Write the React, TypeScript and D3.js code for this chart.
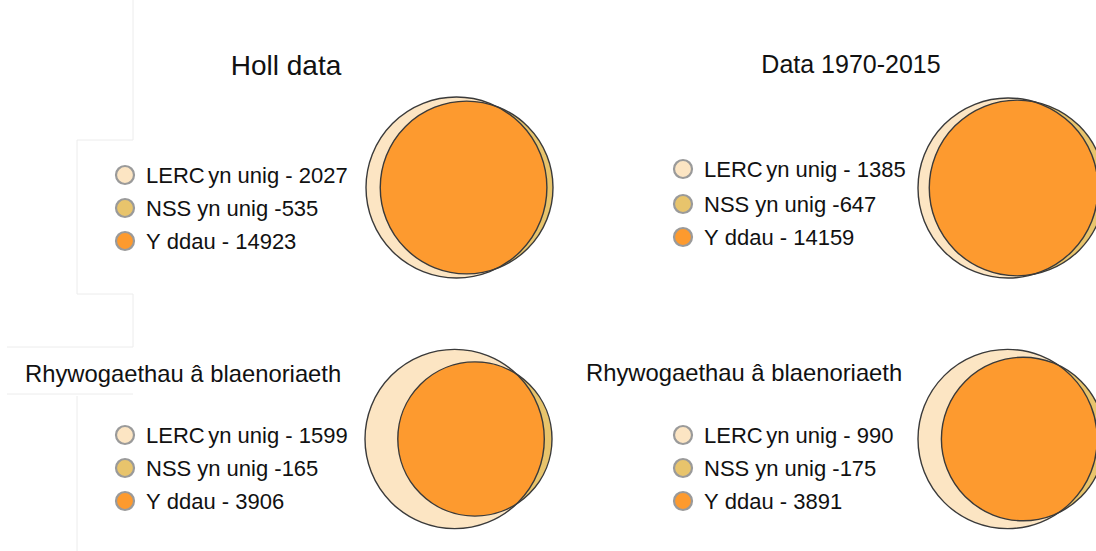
import React from "react";
import * as d3 from "d3";

// ---- data ----
const panelTitles = ["Holl data", "Data 1970-2015", "Rhywogaethau â blaenoriaeth", "Rhywogaethau â blaenoriaeth"];
const lercOnly = [2027, 1385, 1599, 990];
const nssOnly = [535, 647, 165, 175];
const both = [14923, 14159, 3906, 3891];
const legendHeads = ["LERC", "NSS", "Y"];
const legendTails = ["yn unig - ", "yn unig -", "ddau - "];

// ---- styles / layout ----
const colors = ["#FCE5C3", "#E8C46C", "#FD9A2F"];
const layout = [
  { titleX: 286, titleY: 75, titleSize: 28, titleAnchor: "middle", legX: 125, legY: [175, 208, 241], vennLeft: 366, cy: 187.5 },
  { titleX: 851, titleY: 73, titleSize: 25, titleAnchor: "middle", legX: 683, legY: [169, 204, 237], vennLeft: 918, cy: 188 },
  { titleX: 25, titleY: 382, titleSize: 23.8, titleAnchor: "start", legX: 125, legY: [435, 468, 501], vennLeft: 365, cy: 439 },
  { titleX: 586, titleY: 381, titleSize: 23.8, titleAnchor: "start", legX: 683, legY: [435, 468, 501], vennLeft: 918, cy: 439 },
];
const headGaps = [3.5, 6, 6];
const VENN_WIDTH = 187;
const FONT = "'Liberation Sans', Arial, sans-serif";

function overlapArea(r1: number, r2: number, d: number) {
  if (d >= r1 + r2) return 0;
  if (d <= Math.abs(r1 - r2)) return Math.PI * Math.min(r1, r2) ** 2;
  const a1 = r1 * r1 * Math.acos((d * d + r1 * r1 - r2 * r2) / (2 * d * r1));
  const a2 = r2 * r2 * Math.acos((d * d + r2 * r2 - r1 * r1) / (2 * d * r2));
  const k = 0.5 * Math.sqrt((-d + r1 + r2) * (d + r1 - r2) * (d - r1 + r2) * (d + r1 + r2));
  return a1 + a2 - k;
}

function solveVenn(aOnly: number, bOnly: number, ab: number) {
  const r1 = Math.sqrt((aOnly + ab) / Math.PI);
  const r2 = Math.sqrt((bOnly + ab) / Math.PI);
  let lo = Math.abs(r1 - r2), hi = r1 + r2;
  for (let i = 0; i < 80; i++) {
    const mid = (lo + hi) / 2;
    if (overlapArea(r1, r2, mid) > ab) lo = mid; else hi = mid;
  }
  return { r1, r2, d: (lo + hi) / 2 };
}

function Panel({ i }: { i: number }) {
  const L = layout[i];
  const v = solveVenn(lercOnly[i], nssOnly[i], both[i]);
  const total = v.r1 + v.d + v.r2;
  const x = d3.scaleLinear().domain([0, total]).range([L.vennLeft, L.vennLeft + VENN_WIDTH]);
  const s = VENN_WIDTH / total;
  const c1x = x(v.r1), c2x = x(v.r1 + v.d);
  const R1 = v.r1 * s, R2 = v.r2 * s;
  const clipId = `clip-lerc-${i}`;
  const values = [lercOnly[i], nssOnly[i], both[i]];
  return (
    <g>
      <text x={L.titleX} y={L.titleY} fontSize={L.titleSize} textAnchor={L.titleAnchor} fill="#111" fontFamily={FONT}>
        {panelTitles[i]}
      </text>
      {legendHeads.map((h, k) => (
        <g key={k}>
          <circle cx={L.legX} cy={L.legY[k]} r={9} fill={colors[k]} stroke="#9a9a9a" strokeWidth={2.2} filter="url(#soft)" />
          <text x={L.legX + 21} y={L.legY[k]} dy="0.36em" fontSize={22} fill="#111" fontFamily={FONT}>
            <tspan>{h}</tspan>
            <tspan dx={headGaps[k]}>{legendTails[k] + values[k]}</tspan>
          </text>
        </g>
      ))}
      <defs>
        <clipPath id={clipId}>
          <circle cx={c1x} cy={L.cy} r={R1} />
        </clipPath>
      </defs>
      <circle cx={c1x} cy={L.cy} r={R1} fill={colors[0]} />
      <circle cx={c2x} cy={L.cy} r={R2} fill={colors[1]} />
      <circle cx={c2x} cy={L.cy} r={R2} fill={colors[2]} clipPath={`url(#${clipId})`} />
      <circle cx={c1x} cy={L.cy} r={R1} fill="none" stroke="#3a3a3a" strokeWidth={1.4} />
      <circle cx={c2x} cy={L.cy} r={R2} fill="none" stroke="#3a3a3a" strokeWidth={1.4} />
    </g>
  );
}

export default function App() {
  return (
    <svg width={1096} height={551} style={{ position: "absolute", left: 0, top: 0, background: "#fff" }}>
      <defs>
        <filter id="soft" x="-30%" y="-30%" width="160%" height="160%">
          <feGaussianBlur stdDeviation="0.6" />
        </filter>
      </defs>
      <rect x={0} y={0} width={1096} height={551} fill="#fff" />
      {/* faint frame artefacts */}
      <g stroke="#ececec" strokeWidth={1} fill="none">
        <line x1={133} y1={0} x2={133} y2={140} />
        <line x1={77} y1={140} x2={133} y2={140} />
        <line x1={77} y1={140} x2={77} y2={294} />
        <line x1={77} y1={294} x2={133} y2={294} />
        <line x1={133} y1={294} x2={133} y2={347} />
        <line x1={7} y1={347} x2={133} y2={347} />
        <line x1={7} y1={394} x2={133} y2={394} />
        <line x1={77} y1={396} x2={77} y2={551} />
      </g>
      {[0, 1, 2, 3].map((i) => (
        <Panel key={i} i={i} />
      ))}
    </svg>
  );
}
